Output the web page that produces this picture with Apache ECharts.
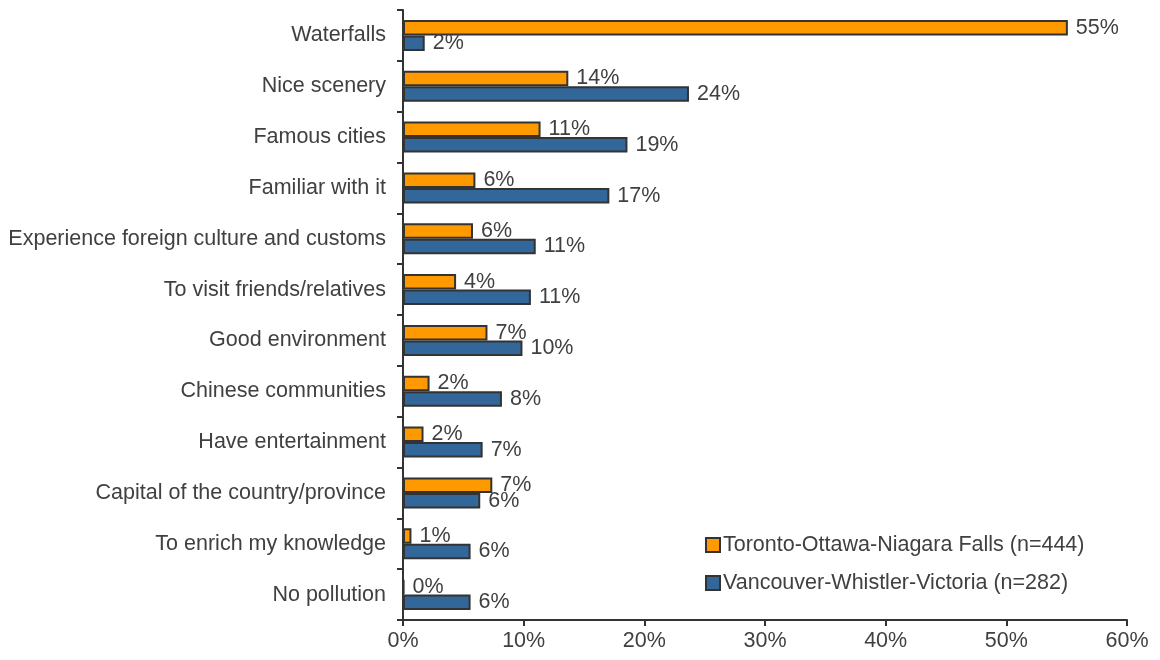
<!DOCTYPE html>
<html>
<head>
<meta charset="utf-8">
<script src="https://cdn.jsdelivr.net/npm/echarts@6/dist/echarts.min.js"></script>
<style>
  html, body { margin: 0; padding: 0; background: #fff; }
  #chart { width: 1160px; height: 660px; }
</style>
</head>
<body>
<div id="chart"></div>
<script>
// Reasons for choosing each destination (share of respondents, %)
const categories = [
  'Waterfalls',
  'Nice scenery',
  'Famous cities',
  'Familiar with it',
  'Experience foreign culture and customs',
  'To visit friends/relatives',
  'Good environment',
  'Chinese communities',
  'Have entertainment',
  'Capital of the country/province',
  'To enrich my knowledge',
  'No pollution'
];
const seriesNames = [
  'Toronto-Ottawa-Niagara Falls (n=444)',
  'Vancouver-Whistler-Victoria (n=282)'
];
const torontoValues   = [55.1, 13.7, 11.4, 6.0, 5.8, 4.4, 7.0, 2.2, 1.7, 7.4, 0.7, 0.1];
const vancouverValues = [1.8, 23.7, 18.6, 17.1, 11.0, 10.6, 9.9, 8.2, 6.6, 6.4, 5.6, 5.6];
const axisTicks = [0, 10, 20, 30, 40, 50, 60];

const textColor = '#404040';
const fontFamily = '"Liberation Sans", Arial, sans-serif';
const fontSize = 21.5;

const chart = echarts.init(document.getElementById('chart'), null, { renderer: 'canvas' });

function barSeries(name, values, color) {
  return {
    name: name,
    type: 'bar',
    data: values,
    barGap: '0%',
    barCategoryGap: '39%',
    itemStyle: { color: color, borderColor: '#333333', borderWidth: 2 },
    label: {
      show: true,
      position: 'right',
      distance: 8,
      color: textColor,
      fontFamily: fontFamily,
      fontSize: fontSize,
      formatter: p => Math.round(p.value) + '%'
    },
    emphasis: { disabled: true }
  };
}

chart.setOption({
  animation: false,
  backgroundColor: '#ffffff',
  grid: { left: 403, right: 33, top: 10, bottom: 40, containLabel: false },
  legend: {
    orient: 'vertical',
    left: 705,
    top: 534,
    padding: 0,
    itemWidth: 14,
    itemHeight: 14,
    itemGap: 16,
    icon: 'rect',
    textStyle: { color: textColor, fontFamily: fontFamily, fontSize: fontSize, padding: [0, 0, 0, -2] },
    data: seriesNames
  },
  xAxis: {
    type: 'value',
    min: axisTicks[0],
    max: axisTicks[axisTicks.length - 1],
    interval: 10,
    axisLine: { show: true, lineStyle: { color: '#333333', width: 2 } },
    axisTick: { show: true, length: 6, lineStyle: { color: '#333333', width: 2 } },
    splitLine: { show: false },
    axisLabel: {
      color: textColor, fontFamily: fontFamily, fontSize: fontSize, margin: 10,
      formatter: v => v + '%'
    }
  },
  yAxis: {
    type: 'category',
    inverse: true,
    data: categories,
    axisLine: { show: true, lineStyle: { color: '#333333', width: 2 } },
    axisTick: { show: true, length: 6, lineStyle: { color: '#333333', width: 2 } },
    axisLabel: { color: textColor, fontFamily: fontFamily, fontSize: fontSize, margin: 17 }
  },
  series: [
    barSeries(seriesNames[0], torontoValues, '#FF9900'),
    barSeries(seriesNames[1], vancouverValues, '#336699')
  ]
});
</script>
</body>
</html>
